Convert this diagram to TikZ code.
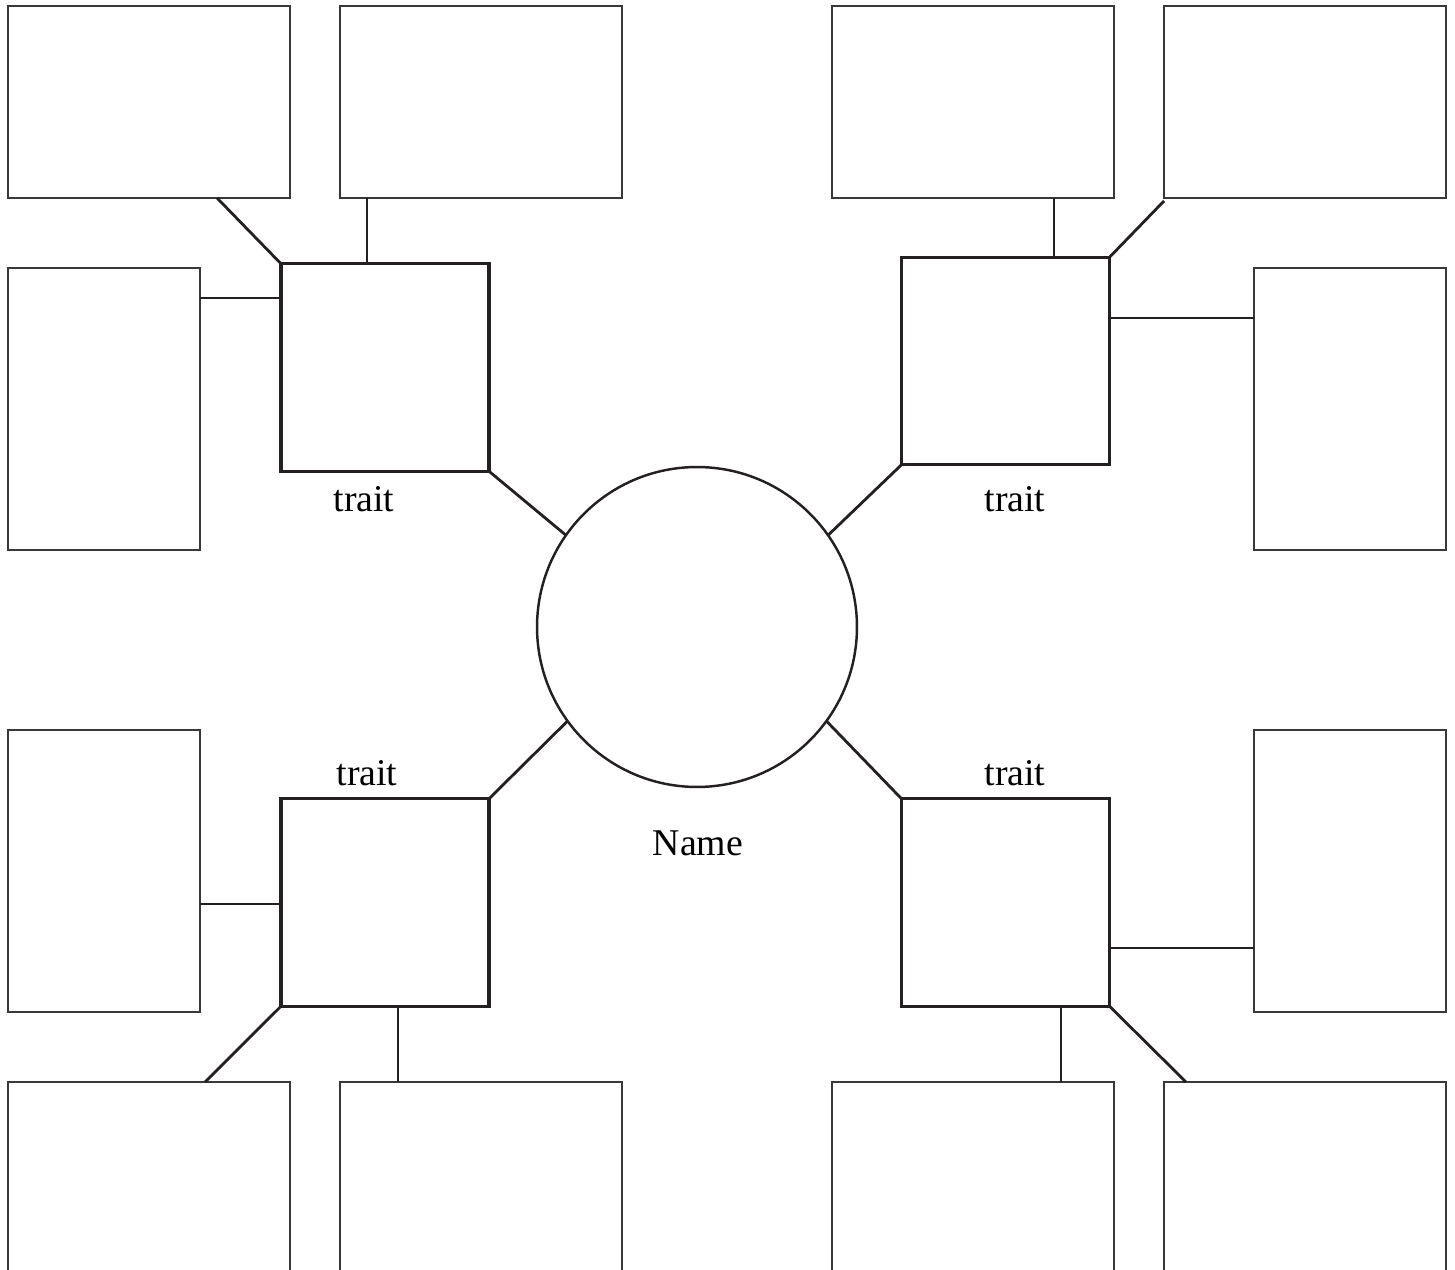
\documentclass[tikz,border=0pt]{standalone}
\usepackage{fontspec}
\setmainfont{Liberation Serif}
\begin{document}
\begin{tikzpicture}[x=0.02cm,y=-0.02cm,
  wide/.style={draw={rgb,1:red,0.22;green,0.22;blue,0.22},line width=1pt,rectangle,inner sep=0pt,outer sep=0pt,minimum width=5.64cm,minimum height=3.84cm},
  tall/.style={draw={rgb,1:red,0.22;green,0.22;blue,0.22},line width=1pt,rectangle,inner sep=0pt,outer sep=0pt,minimum width=3.84cm,minimum height=5.64cm},
  sq/.style={draw={rgb,1:red,0.14;green,0.12;blue,0.13},line width=1.8pt,rectangle,inner sep=0pt,outer sep=0pt,minimum width=4.16cm,minimum height=4.15cm},
  conn/.style={draw={rgb,1:red,0.14;green,0.12;blue,0.13},line width=1.6pt},
  lbl/.style={font=\fontsize{21.5}{26}\selectfont,inner sep=0pt}]
\useasboundingbox (0,0) rectangle (1455,1270);
% outer boxes
\node[wide] (TL1) at (149,102) {};
\node[wide] (TL2) at (481,102) {};
\node[tall] (TL3) at (104,409) {};
\node[wide] (TR1) at (973,102) {};
\node[wide] (TR2) at (1305,102) {};
\node[tall] (TR3) at (1350,409) {};
\node[tall] (BL3) at (104,871) {};
\node[wide] (BL1) at (149,1178) {};
\node[wide] (BL2) at (481,1178) {};
\node[tall] (BR3) at (1350,871) {};
\node[wide] (BR1) at (973,1178) {};
\node[wide] (BR2) at (1305,1178) {};
% trait squares
\node[sq] (sqTL) at (385,367.5) {};
\node[sq] (sqTR) at (1005.5,361) {};
\node[sq] (sqBL) at (385,902.5) {};
\node[sq] (sqBR) at (1005.5,902.5) {};
% circle
\node[circle,draw={rgb,1:red,0.14;green,0.12;blue,0.13},line width=1.4pt,minimum size=6.4cm,inner sep=0pt,outer sep=0pt] (c) at (697,627) {};
% labels
\node[lbl] (tTL) at (364,499) {trait};
\node[lbl] (tTR) at (1015,499) {trait};
\node[lbl] (tBL) at (367,773) {trait};
\node[lbl] (tBR) at (1015,773) {trait};
\node[lbl] (nm) at (698,843) {Name};
% connectors TL
\draw[conn] (sqTL.north west) -- (217,0 |- TL1.south);
\draw[conn] (367,0 |- sqTL.north) -- (367,0 |- TL2.south);
\draw[conn] (sqTL.west |- 0,298) -- (TL3.east |- 0,298);
\draw[conn] (sqTL.south east) -- (c.145);
% connectors TR
\draw[conn] (1054,0 |- sqTR.north) -- (1054,0 |- TR1.south);
\draw[conn] (sqTR.north east) -- ([yshift=-0.06cm]TR2.south west);
\draw[conn] (sqTR.east |- 0,318) -- (TR3.west |- 0,318);
\draw[conn] (sqTR.south west) -- (c.35);
% connectors BL
\draw[conn] (sqBL.north east) -- (c.216);
\draw[conn] (sqBL.west |- 0,904) -- (BL3.east |- 0,904);
\draw[conn] (sqBL.south west) -- (205,0 |- BL1.north);
\draw[conn] (398,0 |- sqBL.south) -- (398,0 |- BL2.north);
% connectors BR
\draw[conn] (c.-36) -- (sqBR.north west);
\draw[conn] (sqBR.east |- 0,948) -- (BR3.west |- 0,948);
\draw[conn] (1061,0 |- sqBR.south) -- (1061,0 |- BR1.north);
\draw[conn] (sqBR.south east) -- (1186,0 |- BR2.north);
\end{tikzpicture}
\end{document}
